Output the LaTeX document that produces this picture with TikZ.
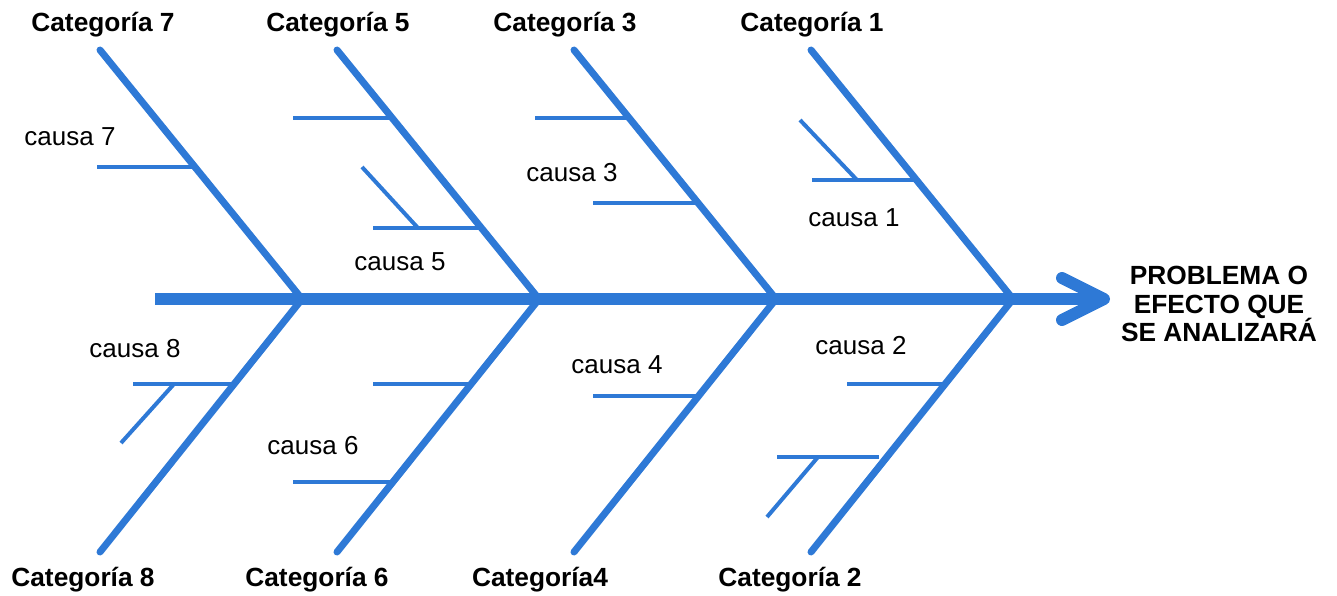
\documentclass[tikz,border=0pt]{standalone}
\usepackage{fontspec}
\setmainfont{Liberation Sans}
\definecolor{fish}{RGB}{46,121,214}
\begin{document}
\begin{tikzpicture}[x=1pt,y=-1pt,
  spinestyle/.style={draw=fish,line width=12pt},
  headstyle/.style={draw=fish,line width=12pt,line cap=round,line join=round},
  bonestyle/.style={draw=fish,line width=7pt,line cap=round},
  twigstyle/.style={draw=fish,line width=4pt},
  catstyle/.style={font=\bfseries\fontsize{26.3}{30}\selectfont,inner sep=0pt},
  causestyle/.style={font=\fontsize{26}{30}\selectfont,inner sep=0pt},
  probstyle/.style={font=\bfseries\fontsize{26.3}{28.5}\selectfont,inner sep=0pt,align=center}]
\useasboundingbox (0,0) rectangle (1337,595);
% spine
\coordinate (tail) at (155,299);
\coordinate (head) at (1100,299);
\coordinate (barbA) at (1062,278);
\coordinate (tip) at (1104,299);
\coordinate (barbB) at (1062,320);
\draw[spinestyle] (tail) -- (head);
\draw[headstyle] (barbA) -- (tip) -- (barbB);
% junctions
\coordinate (j1) at (302,299);
\coordinate (j2) at (539,299);
\coordinate (j3) at (776,299);
\coordinate (j4) at (1013,299);
% upper bone ends
\coordinate (t7) at (100,50);
\coordinate (t5) at (337,50);
\coordinate (t3) at (574,50);
\coordinate (t1) at (811,50);
% lower bone ends
\coordinate (b8) at (100,552);
\coordinate (b6) at (337,552);
\coordinate (b4) at (574,552);
\coordinate (b2) at (811,552);
\draw[bonestyle] (t7) -- (j1);
\draw[bonestyle] (t5) -- (j2);
\draw[bonestyle] (t3) -- (j3);
\draw[bonestyle] (t1) -- (j4);
\draw[bonestyle] (b8) -- (j1);
\draw[bonestyle] (b6) -- (j2);
\draw[bonestyle] (b4) -- (j3);
\draw[bonestyle] (b2) -- (j4);
% twigs category 7
\coordinate (c7a) at (97,167);
\coordinate (c7b) at (195,167);
\draw[twigstyle] (c7a) -- (c7b);
% category 5
\coordinate (c5a) at (293,118);
\coordinate (c5b) at (392,118);
\draw[twigstyle] (c5a) -- (c5b);
\coordinate (c5c) at (373,228);
\coordinate (c5d) at (481,228);
\coordinate (c5e) at (362,167);
\coordinate (c5f) at (418,228);
\draw[twigstyle] (c5c) -- (c5d);
\draw[twigstyle] (c5e) -- (c5f);
% category 3
\coordinate (c3a) at (535,118);
\coordinate (c3b) at (629,118);
\coordinate (c3c) at (593,203);
\coordinate (c3d) at (698,203);
\draw[twigstyle] (c3a) -- (c3b);
\draw[twigstyle] (c3c) -- (c3d);
% category 1
\coordinate (c1a) at (812,180);
\coordinate (c1b) at (916,180);
\coordinate (c1c) at (800,120);
\coordinate (c1d) at (857,180);
\draw[twigstyle] (c1a) -- (c1b);
\draw[twigstyle] (c1c) -- (c1d);
% category 8
\coordinate (c8a) at (133,384);
\coordinate (c8b) at (234,384);
\coordinate (c8c) at (174,384);
\coordinate (c8d) at (121,443);
\draw[twigstyle] (c8a) -- (c8b);
\draw[twigstyle] (c8c) -- (c8d);
% category 6
\coordinate (c6a) at (373,384);
\coordinate (c6b) at (471,384);
\coordinate (c6c) at (293,482);
\coordinate (c6d) at (393,482);
\draw[twigstyle] (c6a) -- (c6b);
\draw[twigstyle] (c6c) -- (c6d);
% category 4
\coordinate (c4a) at (593,396);
\coordinate (c4b) at (699,396);
\draw[twigstyle] (c4a) -- (c4b);
% category 2
\coordinate (c2a) at (847,384);
\coordinate (c2b) at (945,384);
\coordinate (c2c) at (777,457);
\coordinate (c2d) at (879,457);
\coordinate (c2e) at (818,457);
\coordinate (c2f) at (767,517);
\draw[twigstyle] (c2a) -- (c2b);
\draw[twigstyle] (c2c) -- (c2d);
\draw[twigstyle] (c2e) -- (c2f);
% category labels
\node[catstyle] (k7) at (103,25) {Categoría 7};
\node[catstyle] (k5) at (338,25) {Categoría 5};
\node[catstyle] (k3) at (565,25) {Categoría 3};
\node[catstyle] (k1) at (812,25) {Categoría 1};
\node[catstyle] (k8) at (83,580) {Categoría 8};
\node[catstyle] (k6) at (317,580) {Categoría 6};
\node[catstyle] (k4) at (540,580) {Categoría4};
\node[catstyle] (k2) at (790,580) {Categoría 2};
% cause labels
\node[causestyle] (n7) at (70,137) {causa 7};
\node[causestyle] (n5) at (400,262) {causa 5};
\node[causestyle] (n3) at (572,173) {causa 3};
\node[causestyle] (n1) at (854,218) {causa 1};
\node[causestyle] (n8) at (135,349) {causa 8};
\node[causestyle] (n6) at (313,446) {causa 6};
\node[causestyle] (n4) at (617,365) {causa 4};
\node[causestyle] (n2) at (861,346) {causa 2};
% problem
\node[probstyle] (prob) at (1219,304) {PROBLEMA O\\EFECTO QUE\\SE ANALIZARÁ};
\end{tikzpicture}
\end{document}
